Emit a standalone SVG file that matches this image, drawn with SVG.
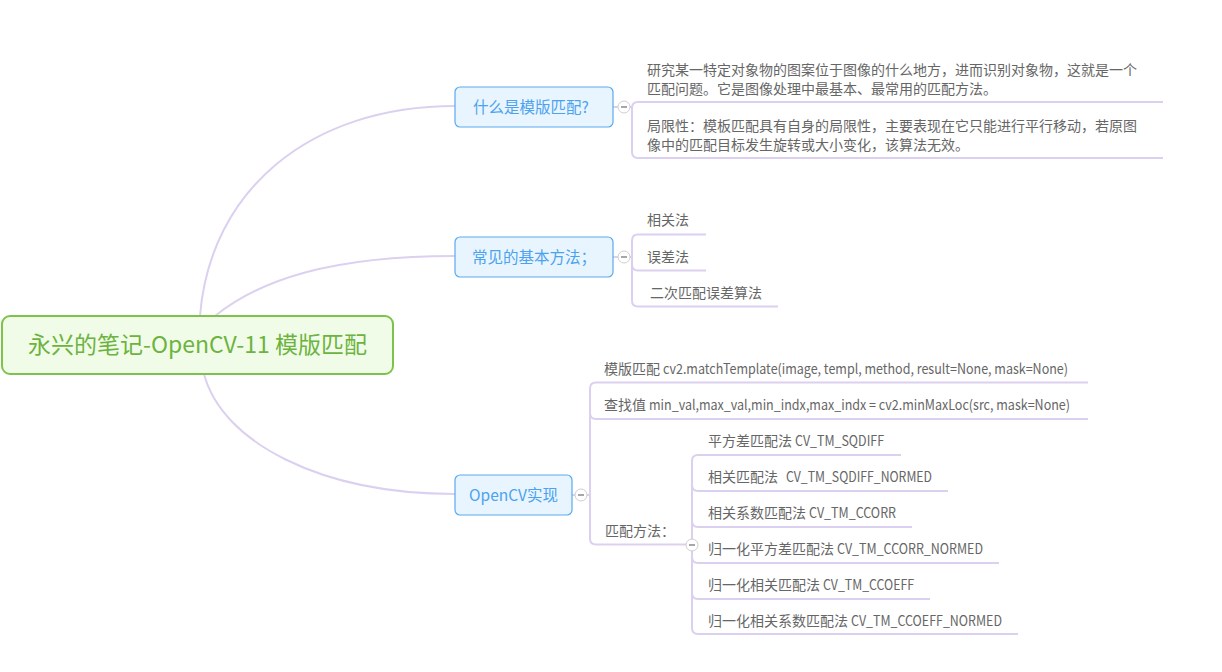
<svg xmlns="http://www.w3.org/2000/svg" width="1222" height="672" viewBox="0 0 1222 672">
<style>
  .conn { fill: none; stroke: #dcd0f0; stroke-width: 2; }
  .br { fill: none; stroke: #dcd0f0; stroke-width: 2; }
  .topic rect { fill: #e8f5fe; stroke: #5aaaf0; stroke-width: 1.2; }
  .topic text { font-family: "Noto Sans CJK SC", "Noto Sans", sans-serif; font-size: 15.5px; fill: #4ca2ee; text-anchor: middle; }
  .leaf { font-family: "Noto Sans CJK SC", "Noto Sans", sans-serif; font-size: 14px; fill: #666666; }
  .fold circle { fill: #ffffff; stroke: #cfcfcf; stroke-width: 1; }
  .fold line { stroke: #8a8a8a; stroke-width: 1.5; }
</style>
<rect width="1222" height="672" fill="#ffffff"/>
<g id="connectors">
  <path class="conn" d="M200,316 C210,190 310,106 455,106"/>
  <path class="conn" d="M215,316 C260,280 330,256 455,256"/>
  <path class="conn" d="M204,374 C222,442 320,494 455,494"/>
  <path class="br" d="M613,107 H618 M630,107 H632"/>
  <path class="br" d="M1163,102 H638 Q632,102 632,108 V152 Q632,158 638,158 H1163"/>
  <path class="br" d="M613,257 H618 M630,257 H632"/>
  <path class="br" d="M706,234.5 H638 Q632,234.5 632,240.5 V300.5 Q632,306.5 638,306.5 H778"/>
  <path class="br" d="M632,264.5 Q632,270.5 638,270.5 H706"/>
  <path class="br" d="M572,495 H575 M587,495 H590"/>
  <path class="br" d="M1088,382.5 H596 Q590,382.5 590,388.5 V538.5 Q590,544.5 596,544.5 H686"/>
  <path class="br" d="M590,413 Q590,419 596,419 H1088"/>
  <path class="br" d="M901,455 H698 Q692,455 692,461 V628 Q692,634 698,634 H1018"/>
  <path class="br" d="M692,485 Q692,491 698,491 H948"/>
  <path class="br" d="M692,521 Q692,527 698,527 H912"/>
  <path class="br" d="M692,557 Q692,563 698,563 H999"/>
  <path class="br" d="M692,593 Q692,599 698,599 H930"/>
</g>
<g id="root">
  <rect x="2" y="316" width="391" height="58" rx="8" fill="#f1fce8" stroke="#7dc34b" stroke-width="2"/>
  <text x="197.5" y="353" font-family="Noto Sans CJK SC, Noto Sans, sans-serif" font-size="23" fill="#6db33f" text-anchor="middle">永兴的笔记-OpenCV-11 模版匹配</text>
</g>
<g id="node1" class="topic">
  <rect x="455" y="87" width="158" height="40" rx="5"/>
  <text x="531" y="113">什么是模版匹配?</text>
</g>
<g id="fold1" class="fold"><circle cx="624" cy="107" r="6"/><line x1="621" y1="107" x2="627" y2="107"/></g>
<g id="node1-c1">
  <text class="leaf" x="647" y="75">研究某一特定对象物的图案位于图像的什么地方，进而识别对象物，这就是一个</text>
  <text class="leaf" x="647" y="94">匹配问题。它是图像处理中最基本、最常用的匹配方法。</text>
</g>
<g id="node1-c2">
  <text class="leaf" x="647" y="131">局限性：模板匹配具有自身的局限性，主要表现在它只能进行平行移动，若原图</text>
  <text class="leaf" x="647" y="150">像中的匹配目标发生旋转或大小变化，该算法无效。</text>
</g>
<g id="node2" class="topic">
  <rect x="455" y="237" width="158" height="40" rx="5"/>
  <text x="534" y="263">常见的基本方法；</text>
</g>
<g id="fold2" class="fold"><circle cx="624" cy="257" r="6"/><line x1="621" y1="257" x2="627" y2="257"/></g>
<g id="node2-c1"><text class="leaf" x="647" y="225">相关法</text></g>
<g id="node2-c2"><text class="leaf" x="647" y="262">误差法</text></g>
<g id="node2-c3"><text class="leaf" x="650" y="298">二次匹配误差算法</text></g>
<g id="node3" class="topic">
  <rect x="455" y="475" width="117" height="40" rx="5"/>
  <text x="513.5" y="501">OpenCV实现</text>
</g>
<g id="fold3" class="fold"><circle cx="581" cy="495" r="6"/><line x1="578" y1="495" x2="584" y2="495"/></g>
<g id="node3-c1"><text class="leaf" x="604" y="374">模版匹配 <tspan x="663" textLength="405" lengthAdjust="spacingAndGlyphs">cv2.matchTemplate(image, templ, method, result=None, mask=None)</tspan></text></g>
<g id="node3-c2"><text class="leaf" x="604" y="410">查找值 <tspan x="649" textLength="421" lengthAdjust="spacingAndGlyphs">min_val,max_val,min_indx,max_indx = cv2.minMaxLoc(src, mask=None)</tspan></text></g>
<g id="node3-c3"><text class="leaf" x="605" y="536">匹配方法：</text></g>
<g id="fold4" class="fold"><circle cx="692" cy="545" r="6"/><line x1="689" y1="545" x2="695" y2="545"/></g>
<g id="m1"><text class="leaf" x="708" y="446">平方差匹配法 <tspan x="795" textLength="89" lengthAdjust="spacingAndGlyphs">CV_TM_SQDIFF</tspan></text></g>
<g id="m2"><text class="leaf" x="708" y="482" style="white-space:pre">相关匹配法  <tspan x="786" textLength="146" lengthAdjust="spacingAndGlyphs">CV_TM_SQDIFF_NORMED</tspan></text></g>
<g id="m3"><text class="leaf" x="708" y="518">相关系数匹配法 <tspan x="809" textLength="87" lengthAdjust="spacingAndGlyphs">CV_TM_CCORR</tspan></text></g>
<g id="m4"><text class="leaf" x="708" y="554">归一化平方差匹配法 <tspan x="837" textLength="146" lengthAdjust="spacingAndGlyphs">CV_TM_CCORR_NORMED</tspan></text></g>
<g id="m5"><text class="leaf" x="708" y="590">归一化相关匹配法 <tspan x="823" textLength="91" lengthAdjust="spacingAndGlyphs">CV_TM_CCOEFF</tspan></text></g>
<g id="m6"><text class="leaf" x="708" y="626">归一化相关系数匹配法 <tspan x="851" textLength="151" lengthAdjust="spacingAndGlyphs">CV_TM_CCOEFF_NORMED</tspan></text></g>
</svg>
